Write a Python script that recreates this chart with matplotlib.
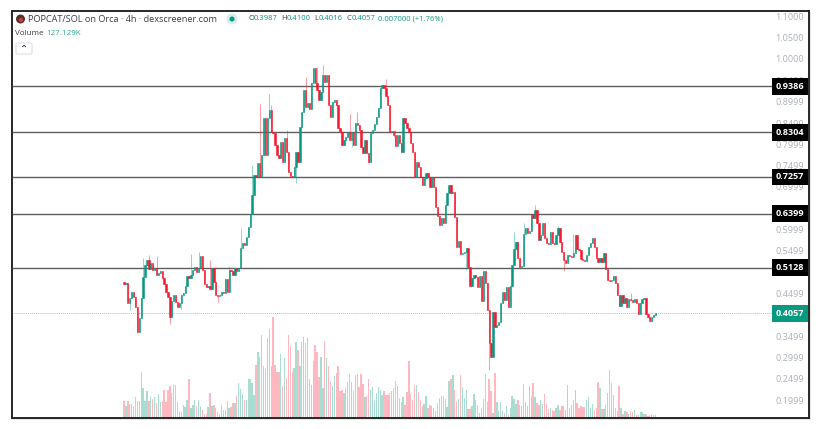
import matplotlib
matplotlib.use('Agg')
import matplotlib.pyplot as plt
import numpy as np
from matplotlib.patches import Rectangle, FancyBboxPatch, Ellipse
from matplotlib.transforms import blended_transform_factory

plt.rcParams['font.family'] = ['Open Sans', 'DejaVu Sans']

# closing prices, oldest first
closes = [.4747, .4771, .4302, .4419, .4560, .4442, .4208, .3622, .3950, .4419, .4911, .5193, .5310, .5099, .5240,
          .5076, .5122, .4958, .5010, .5052, .4888, .4747, .4560, .4442, .3973, .4349, .4489, .4325, .4208, .4302, .4489,
          .4536, .4700, .4935, .4888, .4958, .5076, .5146, .5029, .5120, .5404, .5076, .4747, .4677, .4700, .4630, .5122, .4794,
          .4489, .4466, .4489, .4560, .4530, .4865, .4560, .5076, .5052, .4958, .5122, .5052, .5122, .5592, .5709, .5662,
          .5849, .6084, .6400, .6834, .7303, .7256, .7585, .7256, .7772, .8640, .7772, .8640, .8828, .8312, .8288, .8007,
          .7772, .7702, .8077, .7608, .8171, .7843, .7374, .7280, .7268, .7491, .7843, .7608, .8429, .8781, .9297,
          .8898, .8992, .8851, .9461, .9812, .9461, .9300, .9062, .9250, .9648, .9484, .9648, .8945, .8663, .9015, .9062,
          .8945, .8405, .8312, .8007, .8124, .8200, .8312, .8124, .8312, .8007, .8523, .8476, .8359, .7950, .7819, .8124, .7819,
          .7608, .8288, .8359, .8500, .8663, .8874, .9343, .9414, .9343, .9156, .8945, .8312, .8335,
          .8241, .7983, .8241, .8054, .7843, .8640, .8523, .8405, .8300, .8054, .7843, .7256, .7608, .7491, .7256, .7069,
          .7233, .7350, .7256, .7022, .7256, .7022, .6553, .6342, .6131, .6295, .6178, .6600, .6881, .7069, .6881, .6905,
          .6318, .5615, .5756, .5451, .5470, .5498, .5592, .5146, .4700, .4888, .4958, .4900, .4677, .4935, .4349, .5052, .4771,
          .4138, .3363, .3035, .4091, .3739, .3786, .3850, .4302, .4560, .4372, .4677, .4208, .4700, .5193,
          .5568, .5732, .5357, .5146, .5169, .5920, .6060, .5943, .5990, .6389, .6295, .6483, .6178, .5779, .5896,
          .6178, .5826, .5709, .5685, .5967, .5709, .5685, .5896, .6060, .5732, .5500, .5310, .5240, .5427, .5404, .5380,
          .5474, .5896, .5568, .5545, .5333, .5310, .5287, .5427, .5615, .5709, .5826, .5615, .5357, .5263, .5357,
          .5263, .5474, .5100, .4841, .4817, .4841, .4935, .4771, .4500, .4231, .4489, .4302, .4419, .4208, .4395, .4372, .4325,
          .4395, .4300, .4044, .4302, .4395, .4419, .4044, .3973, .3880, .3973, .4020, .4057]
first_open = .4794

# wicks that stick out of the bodies: candle number -> price
wick_highs = {10: .5357, 13: .5427, 17: .5404, 35: .5451, 39: .5498, 45: .5310, 55: .5169, 61: .6060, 67: .7538,
              71: .8968, 76: .9203, 77: .8945, 85: .8359, 95: .9601, 101: .9836, 104: .9883, 118: .8733, 122: .8781,
              129: .8241, 137: .9555, 142: .8359, 204: .5967, 209: .6178, 215: .6600, 227: .6107, 235: .5920, 265: .4536}
wick_lows = {3: .4137, 24: .3809, 30: .4161, 49: .4325, 90: .7116, 119: .7960, 128: .7585, 141: .8194, 179: .5076,
             191: .2730, 230: .5052, 232: .5263}

# volume in thousands
volumes = [1030, 720, 990, 840, 840, 720, 1260, 1030, 1030, 2800, 1810, 990, 1650, 1030, 1240, 1130, 1240, 890, 1460,
           930, 990, 1710, 930, 1710, 1960, 1500, 2000, 2000, 970, 410, 350, 780, 620, 1050, 2370, 580, 780, 1050, 720,
           1070, 680, 470, 230, 230, 620, 1500, 720, 780, 580, 310, 230, 780, 470, 470, 1030, 580, 620, 890, 890, 1340,
           2120, 1750, 1440, 1090, 1090, 2390, 2390, 2120, 1400, 3250, 4020, 3730, 5110, 3150, 2990, 4900, 5480, 3150,
           6200, 3250, 2780, 2780, 3930, 1920, 3670, 2430, 5050, 4430, 2780, 3050, 4660, 4140, 3150, 4640, 4960, 4590,
           4900, 2390, 2020, 3460, 4490, 4020, 2470, 3710, 1810, 4740, 3670, 3150, 2160, 1960, 2580, 2740, 3150, 1650,
           1710, 1500, 1810, 2160, 2700, 2160, 1650, 2640, 2700, 1850, 2700, 2080, 1260, 1340, 2390, 1710, 1870, 990,
           1500, 1870, 1710, 1400, 1610, 1400, 1400,
           1500, 1610, 1810, 2220, 1920, 1190, 950, 1260, 780, 1550, 3500, 1460, 1090, 2020, 2020, 1550, 1090, 720, 840,
           1340, 580, 780, 680, 580, 430, 890, 1190, 1340, 1300, 1130, 620, 2220, 2370, 2600, 1670, 930, 1130, 2640,
           1850, 1190, 1670, 520, 540, 680, 1440, 1090, 780, 270, 520, 1130, 2700, 930, 2390, 1650, 270, 2740, 930, 410,
           930, 410, 270, 720, 160, 580, 1340, 1130, 840, 1050, 740, 680, 2080, 950, 680, 1960, 1340, 2120, 1260, 890,
           780, 1090, 840, 1460, 820, 520, 580, 470, 370, 580, 780, 470, 680, 720, 470, 2020, 580, 780, 1090, 1670, 890,
           580, 680, 640, 640, 1090, 1260, 580, 840, 470, 580, 2180, 1810, 520, 540, 780, 1500, 2900, 2120, 1400, 580,
           370, 1920, 580, 230, 430, 310, 230, 410, 310, 470, 160, 160, 310, 350, 230, 190, 100, 140, 210, 130, 127.129]

levels = [0.9386, 0.8304, 0.7257, 0.6399, 0.5128]
last_price = 0.4057
price_ticks = ['1.1000', '1.0500', '1.0000', '0.9499', '0.8999', '0.8499', '0.7999', '0.7499', '0.6999', '0.6499',
               '0.5999', '0.5499', '0.4999', '0.4499', '0.3499', '0.2999', '0.2499', '0.1999']

UP = '#089981'
DOWN = '#f7182f'

W, H = 821, 429
fig = plt.figure(figsize=(W / 100, H / 100), dpi=100)
fig.patch.set_facecolor('white')


def px(x, y):
    return x / W, 1 - y / H


# soft shadow round the frame
fig.add_artist(Rectangle(px(11, 420), 800 / W, 409 / H, transform=fig.transFigure, fc='#e6e6e6', ec='none', zorder=-1))

left, right, top, bottom = 12, 809, 11.5, 417.5
ax = fig.add_axes([left / W, 1 - bottom / H, (right - left) / W, (bottom - top) / H])
ax_vol = ax.twinx()
ax.set_zorder(ax_vol.get_zorder() + 1)
ax.patch.set_visible(False)
ax_vol.patch.set_visible(True)
ax_vol.patch.set_facecolor('white')

n = len(closes)
step = (655.5 - 124.0) / (n - 1)
xs = np.arange(n)
closes_a = np.array(closes)
opens_a = np.array([first_open] + closes[:-1])
is_up = closes_a >= opens_a
colors = [UP if u else DOWN for u in is_up]

for a in (ax, ax_vol):
    a.set_xlim(-(124 - left) / step, (right - 124) / step)
ax.set_ylim(1.1407 - 0.002345 * bottom, 1.1407 - 0.002345 * top)
ax_vol.set_ylim(0, 25000)
ax.set_xticks([])
ax.set_yticks([])
ax_vol.set_yticks([])
for a in (ax, ax_vol):
    for s in a.spines.values():
        s.set_color('#222222')
        s.set_linewidth(1.1)

# volume
vol_cols = ['#a9ddd2' if u else '#fdb9bf' for u in is_up]
ax_vol.bar(xs, volumes, width=0.72, color=vol_cols, linewidth=0)

# price lines, only as far as the labels
trans = blended_transform_factory(ax.transAxes, ax.transData)
line_end = (773 - left) / (right - left)
for lev in levels:
    ax.plot([0, line_end], [lev, lev], color='#5f5f5f', lw=1.0, transform=trans, zorder=1, solid_capstyle='butt')
ax.plot([0, line_end], [last_price, last_price], color='#8fd3c4', lw=0.7, ls=(0, (1, 1)), transform=trans, zorder=1)

# candles
highs = np.maximum(opens_a, closes_a)
lows = np.minimum(opens_a, closes_a)
wick_top = np.array([max(highs[i], wick_highs.get(i, 0)) for i in xs])
wick_bot = np.array([min(lows[i], wick_lows.get(i, 9)) for i in xs])
ax.vlines(xs, wick_bot, wick_top, colors=colors, lw=0.6, alpha=0.5, zorder=2)
ax.bar(xs, highs - lows, bottom=lows, width=0.68, color=colors, edgecolor=colors, linewidth=0.4, zorder=3)

# price scale
for t in price_ticks:
    ax.text((804 - left) / (right - left), float(t), t, transform=trans, ha='right', va='center',
            fontsize=6.6, color='#adb1ba', zorder=4)

for lev in levels:
    ax.text((790 - left) / (right - left), lev, '%.4f' % lev, transform=trans, ha='center', va='center', fontsize=6.6,
            color='white', fontweight='bold', zorder=6,
            bbox=dict(boxstyle='square,pad=0.42', fc='black', ec='black', lw=0))
ax.text((790 - left) / (right - left), last_price, '%.4f' % last_price, transform=trans, ha='center', va='center',
        fontsize=6.6, color='white', fontweight='bold', zorder=6,
        bbox=dict(boxstyle='square,pad=0.42', fc=UP, ec=UP, lw=0))


# header
def dot(x, y, d, color, z=5):
    fig.add_artist(Ellipse(px(x, y), d / W, d / H, transform=fig.transFigure, fc=color, ec='none', zorder=z))


dot(20.5, 19, 9, '#5a2f2a')
dot(21, 20, 4, '#c9414a', 6)
dot(232, 19, 11, '#d3eee8')
dot(232, 19, 5, UP, 6)


def label(x, y, s, color='#3a3d45', size=6.6):
    fx, fy = px(x, y)
    fig.text(fx, fy, s, color=color, fontsize=size, ha='left', va='center', zorder=7)


label(28, 19, 'POPCAT/SOL on Orca · 4h · dexscreener.com', size=6.6)
label(248, 19, 'O', size=5.5)
label(253.5, 19, '0.3987', UP, 5.5)
label(281, 19, 'H', size=5.5)
label(287, 19, '0.4100', UP, 5.5)
label(314, 19, 'L', size=5.5)
label(318.5, 19, '0.4016', UP, 5.5)
label(346, 19, 'C', size=5.5)
label(351.5, 19, '0.4057', UP, 5.5)
label(378, 19, '0.007000 (+1.76%)', UP, 5.5)
label(15, 33.5, 'Volume', size=5.8)
label(46, 33.5, '127.129K', '#22ab94', 5.8)

bx, by = px(16, 54)
fig.add_artist(FancyBboxPatch((bx, by), 16 / W, 11 / H, boxstyle='round,pad=0,rounding_size=0.002',
                              transform=fig.transFigure, fc='white', ec='#d9dbe0', lw=0.7, zorder=5))
fx, fy = px(24, 49)
fig.text(fx, fy, '⌃', color='#222222', fontsize=7, ha='center', va='center', family='DejaVu Sans', zorder=7)

fig.savefig('out.png', dpi=100)
